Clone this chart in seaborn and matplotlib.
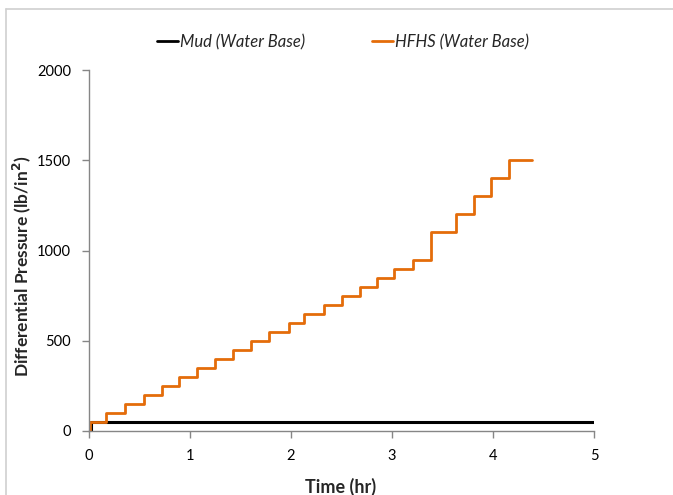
import matplotlib
matplotlib.use("Agg")
import matplotlib.pyplot as plt
from matplotlib.lines import Line2D
import pandas as pd
import seaborn as sns

# step start times (hr) and pressures (lb/in2)
hfhs_time = [0.0, 0.01, 0.17, 0.36, 0.54, 0.72, 0.89, 1.07, 1.25, 1.43, 1.60,
             1.78, 1.98, 2.13, 2.33, 2.50, 2.68, 2.85, 3.02, 3.21, 3.39,
             3.63, 3.81, 3.98, 4.16, 4.39]
hfhs_pressure = [0, 50, 100, 150, 200, 250, 300, 350, 400, 450, 500,
                 550, 600, 650, 700, 750, 800, 850, 900, 950, 1100,
                 1200, 1300, 1400, 1500, 1500]
mud_time = [0.0, 0.02, 5.0]
mud_pressure = [0, 50, 50]

MUD_COLOR = "#000000"
HFHS_COLOR = "#E46C0A"
GRID_GRAY = "#868686"

sns.set_style("white")
plt.rcParams["font.family"] = ["Lato", "DejaVu Sans"]

fig = plt.figure(figsize=(6.73, 4.95), dpi=100)
ax = fig.add_axes([89 / 673, 1 - 431 / 495, (594 - 89) / 673, (431 - 70) / 495])

mud = pd.DataFrame({"time": mud_time, "pressure": mud_pressure})
hfhs = pd.DataFrame({"time": hfhs_time, "pressure": hfhs_pressure})

sns.lineplot(data=mud, x="time", y="pressure", ax=ax, color=MUD_COLOR,
             lw=2.2, drawstyle="steps-post", estimator=None, sort=False)
sns.lineplot(data=hfhs, x="time", y="pressure", ax=ax, color=HFHS_COLOR,
             lw=2.0, drawstyle="steps-post", estimator=None, sort=False)

ax.set_xlim(0, 5)
ax.set_ylim(0, 2000)
ax.set_xticks([0, 1, 2, 3, 4, 5])
ax.set_yticks([0, 500, 1000, 1500, 2000])
for s in ["top", "right"]:
    ax.spines[s].set_visible(False)
for s in ["left", "bottom"]:
    ax.spines[s].set_color(GRID_GRAY)
    ax.spines[s].set_linewidth(1.0)
ax.tick_params(axis="both", which="major", length=5, width=1, color=GRID_GRAY,
               direction="out", labelsize=10.5, labelcolor="black", pad=8,
               bottom=True, left=True)

ax.set_xlabel("Time (hr)", fontsize=13, fontweight="bold")
ax.set_ylabel("Differential Pressure (lb/in$^\\mathbf{2}$)", fontsize=12.5,
              fontweight="bold")
ax.xaxis.set_label_coords((341 - 89) / 505, -(478 - 431) / 361)
ax.yaxis.set_label_coords(-(89 - 33) / 505, (431 - 266) / 361)

handles = [Line2D([0], [0], color=MUD_COLOR, lw=2),
           Line2D([0], [0], color=HFHS_COLOR, lw=2)]
leg = fig.legend(handles, ["Mud (Water Base)", "HFHS (Water Base)"],
                 loc="center left", bbox_to_anchor=(142 / 673, 1 - 42 / 495),
                 ncol=2, frameon=False, handlelength=1.25, handletextpad=0.15,
                 columnspacing=4.0, prop={"style": "italic", "size": 12})

# chart-area border (left and top edges visible)
fig.add_artist(Line2D([6 / 673, 6 / 673], [0, 1 - 9 / 495], color="#D0D0D0",
                      lw=1.2, transform=fig.transFigure))
fig.add_artist(Line2D([6 / 673, 1], [1 - 9 / 495, 1 - 9 / 495], color="#D0D0D0",
                      lw=1.2, transform=fig.transFigure))

fig.savefig("out.png", dpi=100)
